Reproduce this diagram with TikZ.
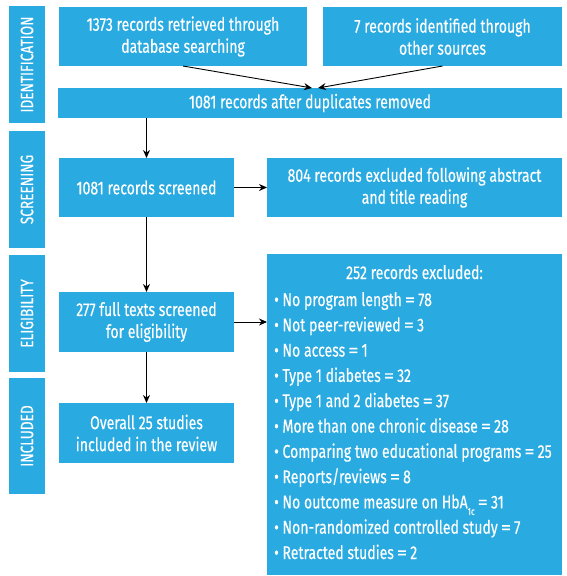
\documentclass[tikz,border=0pt]{standalone}
\usepackage{fontspec}
\setmainfont{Fira Sans}[FakeStretch=0.76,FakeBold=0.35]
\usetikzlibrary{arrows.meta,calc}
\definecolor{boxblue}{RGB}{41,170,225}
\newcommand\eqsign{\,\scalebox{1.45}[1]{=}\,}
\begin{document}
\begin{tikzpicture}[x=1pt,y=-1pt,
  box/.style={fill=boxblue, text=white, inner sep=0pt, outer sep=0pt, anchor=north west, align=center, font=\fontsize{18.5}{22}\selectfont},
  side/.style={fill=boxblue, text=white, inner sep=0pt, outer sep=0pt, rotate=90, minimum height=36pt, font=\fontsize{18}{22}\selectfont},
  arr/.style={-{Stealth[length=8pt,width=7pt]}, line width=0.9pt},
  item/.style={text=white, anchor=base west, inner sep=0pt, font=\fontsize{18.5}{22}\selectfont}]
\useasboundingbox (0,0) rectangle (567,576);
% phase labels
\node[side, minimum width=117pt] (s1) at (27,64.5) {IDENTIFICATION};
\node[side, minimum width=117pt] (s2) at (27,189.5) {SCREENING};
\node[side, minimum width=117pt] (s3) at (27,313.5) {ELIGIBILITY};
\node[side, minimum width=116pt] (s4) at (27,436) {INCLUDED};
% boxes
\node[box, minimum width=248pt, minimum height=59pt] (b1) at (59,7) {1373 records retrieved through\\database searching};
\node[box, minimum width=239pt, minimum height=59pt] (b2) at (323,7) {7 records identified through\\other sources};
\node[box, minimum width=504pt, minimum height=30pt] (b3) at (58,88) {1081 records after duplicates removed};
\node[box, minimum width=175pt, minimum height=59pt] (b4) at (59,158) {1081 records screened};
\node[box, minimum width=295pt, minimum height=59pt] (b5) at (267,158) {804 records excluded following abstract\\and title reading};
\node[box, minimum width=175pt, minimum height=60pt] (b6) at (59,292) {277 full texts screened\\for eligibility};
\node[box, minimum width=295pt, minimum height=321pt] (b7) at (267,254) {};
\node[box, minimum width=175pt, minimum height=60pt] (b8) at (59,403) {Overall 25 studies\\included in the review};
% contents of exclusion box
\node[item, anchor=base] (t0) at (414.5,279) {252 records excluded:};
\node[item] (t1) at (274,306) {• No program length\eqsign 78};
\node[item] (t2) at (274,331.3) {• Not peer-reviewed\eqsign 3};
\node[item] (t3) at (274,356.6) {• No access\eqsign 1};
\node[item] (t4) at (274,381.9) {• Type 1 diabetes\eqsign 32};
\node[item] (t5) at (274,407.2) {• Type 1 and 2 diabetes\eqsign 37};
\node[item] (t6) at (274,432.5) {• More than one chronic disease\eqsign 28};
\node[item] (t7) at (274,457.8) {• Comparing two educational programs\eqsign 25};
\node[item] (t8) at (274,483.1) {• Reports/reviews\eqsign 8};
\node[item] (t9) at (274,508.4) {• No outcome measure on HbA\raisebox{-0.35em}{\fontsize{10}{10}\selectfont 1c}\eqsign 31};
\node[item] (t10) at (274,533.7) {• Non-randomized controlled study\eqsign 7};
\node[item] (t11) at (274,559) {• Retracted studies\eqsign 2};
% connectors
\coordinate (m1) at ($(b3.north)+(2,0)$);
\coordinate (m2) at ($(b3.north)+(8,0)$);
\draw[arr] (b1.south) -- (m1);
\draw[arr] (b2.south) -- (m2);
\draw[arr] (b4.north |- b3.south) -- (b4.north);
\draw[arr] (b4.east) -- (b5.west);
\draw[arr] (b4.south) -- (b6.north);
\draw[arr] (b6.east) -- (b6.east -| b7.west);
\draw[arr] (b6.south) -- (b8.north);
\end{tikzpicture}
\end{document}
